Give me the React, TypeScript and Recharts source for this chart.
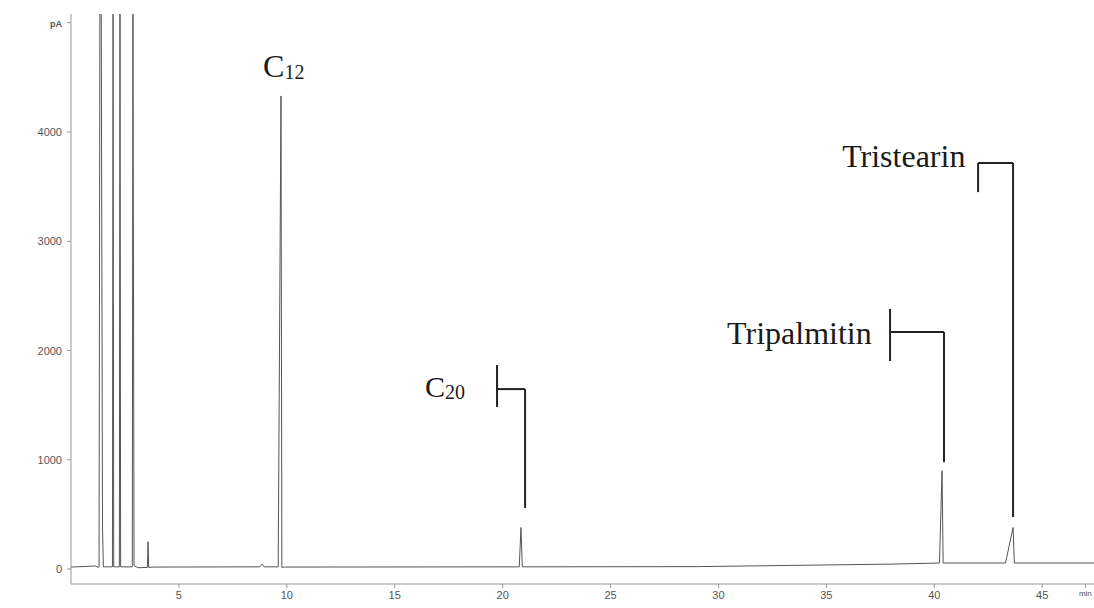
import { LineChart, Line, XAxis, YAxis, ReferenceLine, ReferenceDot } from "recharts"

// retention time (min) and detector signal (pA)
const times = [
  0, 1.16, 1.2, 1.3, 1.34, 1.4, 1.46, 1.5, 1.92, 1.95, 1.98, 2.24, 2.27, 2.3, 2.84, 2.87, 2.92, 3.05, 3.1,
  3.54, 3.57, 3.6, 3.8, 8.75, 8.85, 8.95, 9.6, 9.73, 9.77, 9.9, 20.77, 20.85, 20.91, 29, 38, 40.24, 40.36,
  40.41, 43.3, 43.65, 43.71, 47.4,
]
const signal = [
  18, 28, 18, 18, 5200, 5200, 385, 20, 20, 5200, 20, 20, 5200, 20, 20, 5200, 30, 18, 12,
  15, 250, 15, 18, 20, 45, 20, 20, 4330, 15, 18, 20, 380, 20, 22, 45, 55, 900,
  55, 55, 380, 55, 55,
]

const xTicks = [5, 10, 15, 20, 25, 30, 35, 40, 45, 47]
const yTicks = [0, 1000, 2000, 3000, 4000, 5000]

// peak labels: text, subscript, anchor (min, pA)
const peakLabels = [
  { text: "C", sub: "12", t: 8.9, v: 4503, size: 32 },
  { text: "C", sub: "20", t: 16.4, v: 1574, size: 30 },
  { text: "Tripalmitin", sub: "", t: 30.4, v: 2059, size: 32 },
  { text: "Tristearin", sub: "", t: 35.73, v: 3679, size: 32 },
]

// bracket segments pointing at peaks: [t1, v1, t2, v2]
const brackets = [
  [19.74, 1867, 19.74, 1483],
  [19.74, 1647, 21.04, 1647],
  [21.04, 1647, 21.04, 558],
  [37.95, 2380, 37.95, 1904],
  [37.95, 2169, 40.45, 2169],
  [40.45, 2169, 40.45, 979],
  [42.03, 3716, 42.03, 3450],
  [42.03, 3716, 43.65, 3716],
  [43.65, 3716, 43.65, 476],
]

const data = times.map((t, i) => ({ t, pA: signal[i] }))

const YTick = (props: any) => {
  const { x, y, payload } = props
  const isUnit = payload.value === 5000
  return (
    <text
      x={x - 3}
      y={y}
      dy={4}
      textAnchor="end"
      fontFamily="Liberation Sans, Arial, sans-serif"
      fontSize={isUnit ? 9 : 11}
      fontWeight={isUnit ? 700 : 400}
      fill="#555"
    >
      {isUnit ? "pA" : payload.value}
    </text>
  )
}

const XTick = (props: any) => {
  const { x, y, payload } = props
  const isUnit = payload.value === 47
  return (
    <text
      x={x}
      y={y}
      dy={isUnit ? 6 : 9}
      textAnchor="middle"
      fontFamily="Liberation Sans, Arial, sans-serif"
      fontSize={isUnit ? 8 : 11}
      fill="#555"
    >
      {isUnit ? "min" : payload.value}
    </text>
  )
}

const LabelShape = (lbl: (typeof peakLabels)[number]) => (props: any) => (
  <text x={props.cx} y={props.cy} fontFamily="Liberation Serif, Times New Roman, serif" fill="#1a1a1a">
    <tspan fontSize={lbl.size}>{lbl.text}</tspan>
    {lbl.sub && (
      <tspan fontSize={20} dy={2}>
        {lbl.sub}
      </tspan>
    )}
  </text>
)

export default function App() {
  return (
    <div style={{ position: "fixed", left: 0, top: 0, background: "#fff" }}>
      <LineChart width={1094} height={608} data={data} margin={{ top: 14, right: 0, bottom: 0, left: 0 }}>
        <XAxis
          dataKey="t"
          type="number"
          domain={[0, 47.4]}
          ticks={xTicks}
          tick={<XTick />}
          tickSize={4}
          height={24}
          allowDataOverflow
          stroke="#999"
        />
        <YAxis
          type="number"
          domain={[-137, 5080]}
          ticks={yTicks}
          tick={<YTick />}
          tickSize={4}
          width={71}
          allowDataOverflow
          stroke="#999"
        />
        <Line
          type="linear"
          dataKey="pA"
          stroke="#555"
          strokeWidth={1}
          dot={false}
          isAnimationActive={false}
        />
        {brackets.map((b, i) => (
          <ReferenceLine
            key={i}
            segment={[
              { x: b[0], y: b[1] },
              { x: b[2], y: b[3] },
            ]}
            stroke="#222"
            strokeWidth={2}
          />
        ))}
        {peakLabels.map((l, i) => (
          <ReferenceDot key={"l" + i} x={l.t} y={l.v} r={0} shape={LabelShape(l)} />
        ))}
      </LineChart>
    </div>
  )
}
